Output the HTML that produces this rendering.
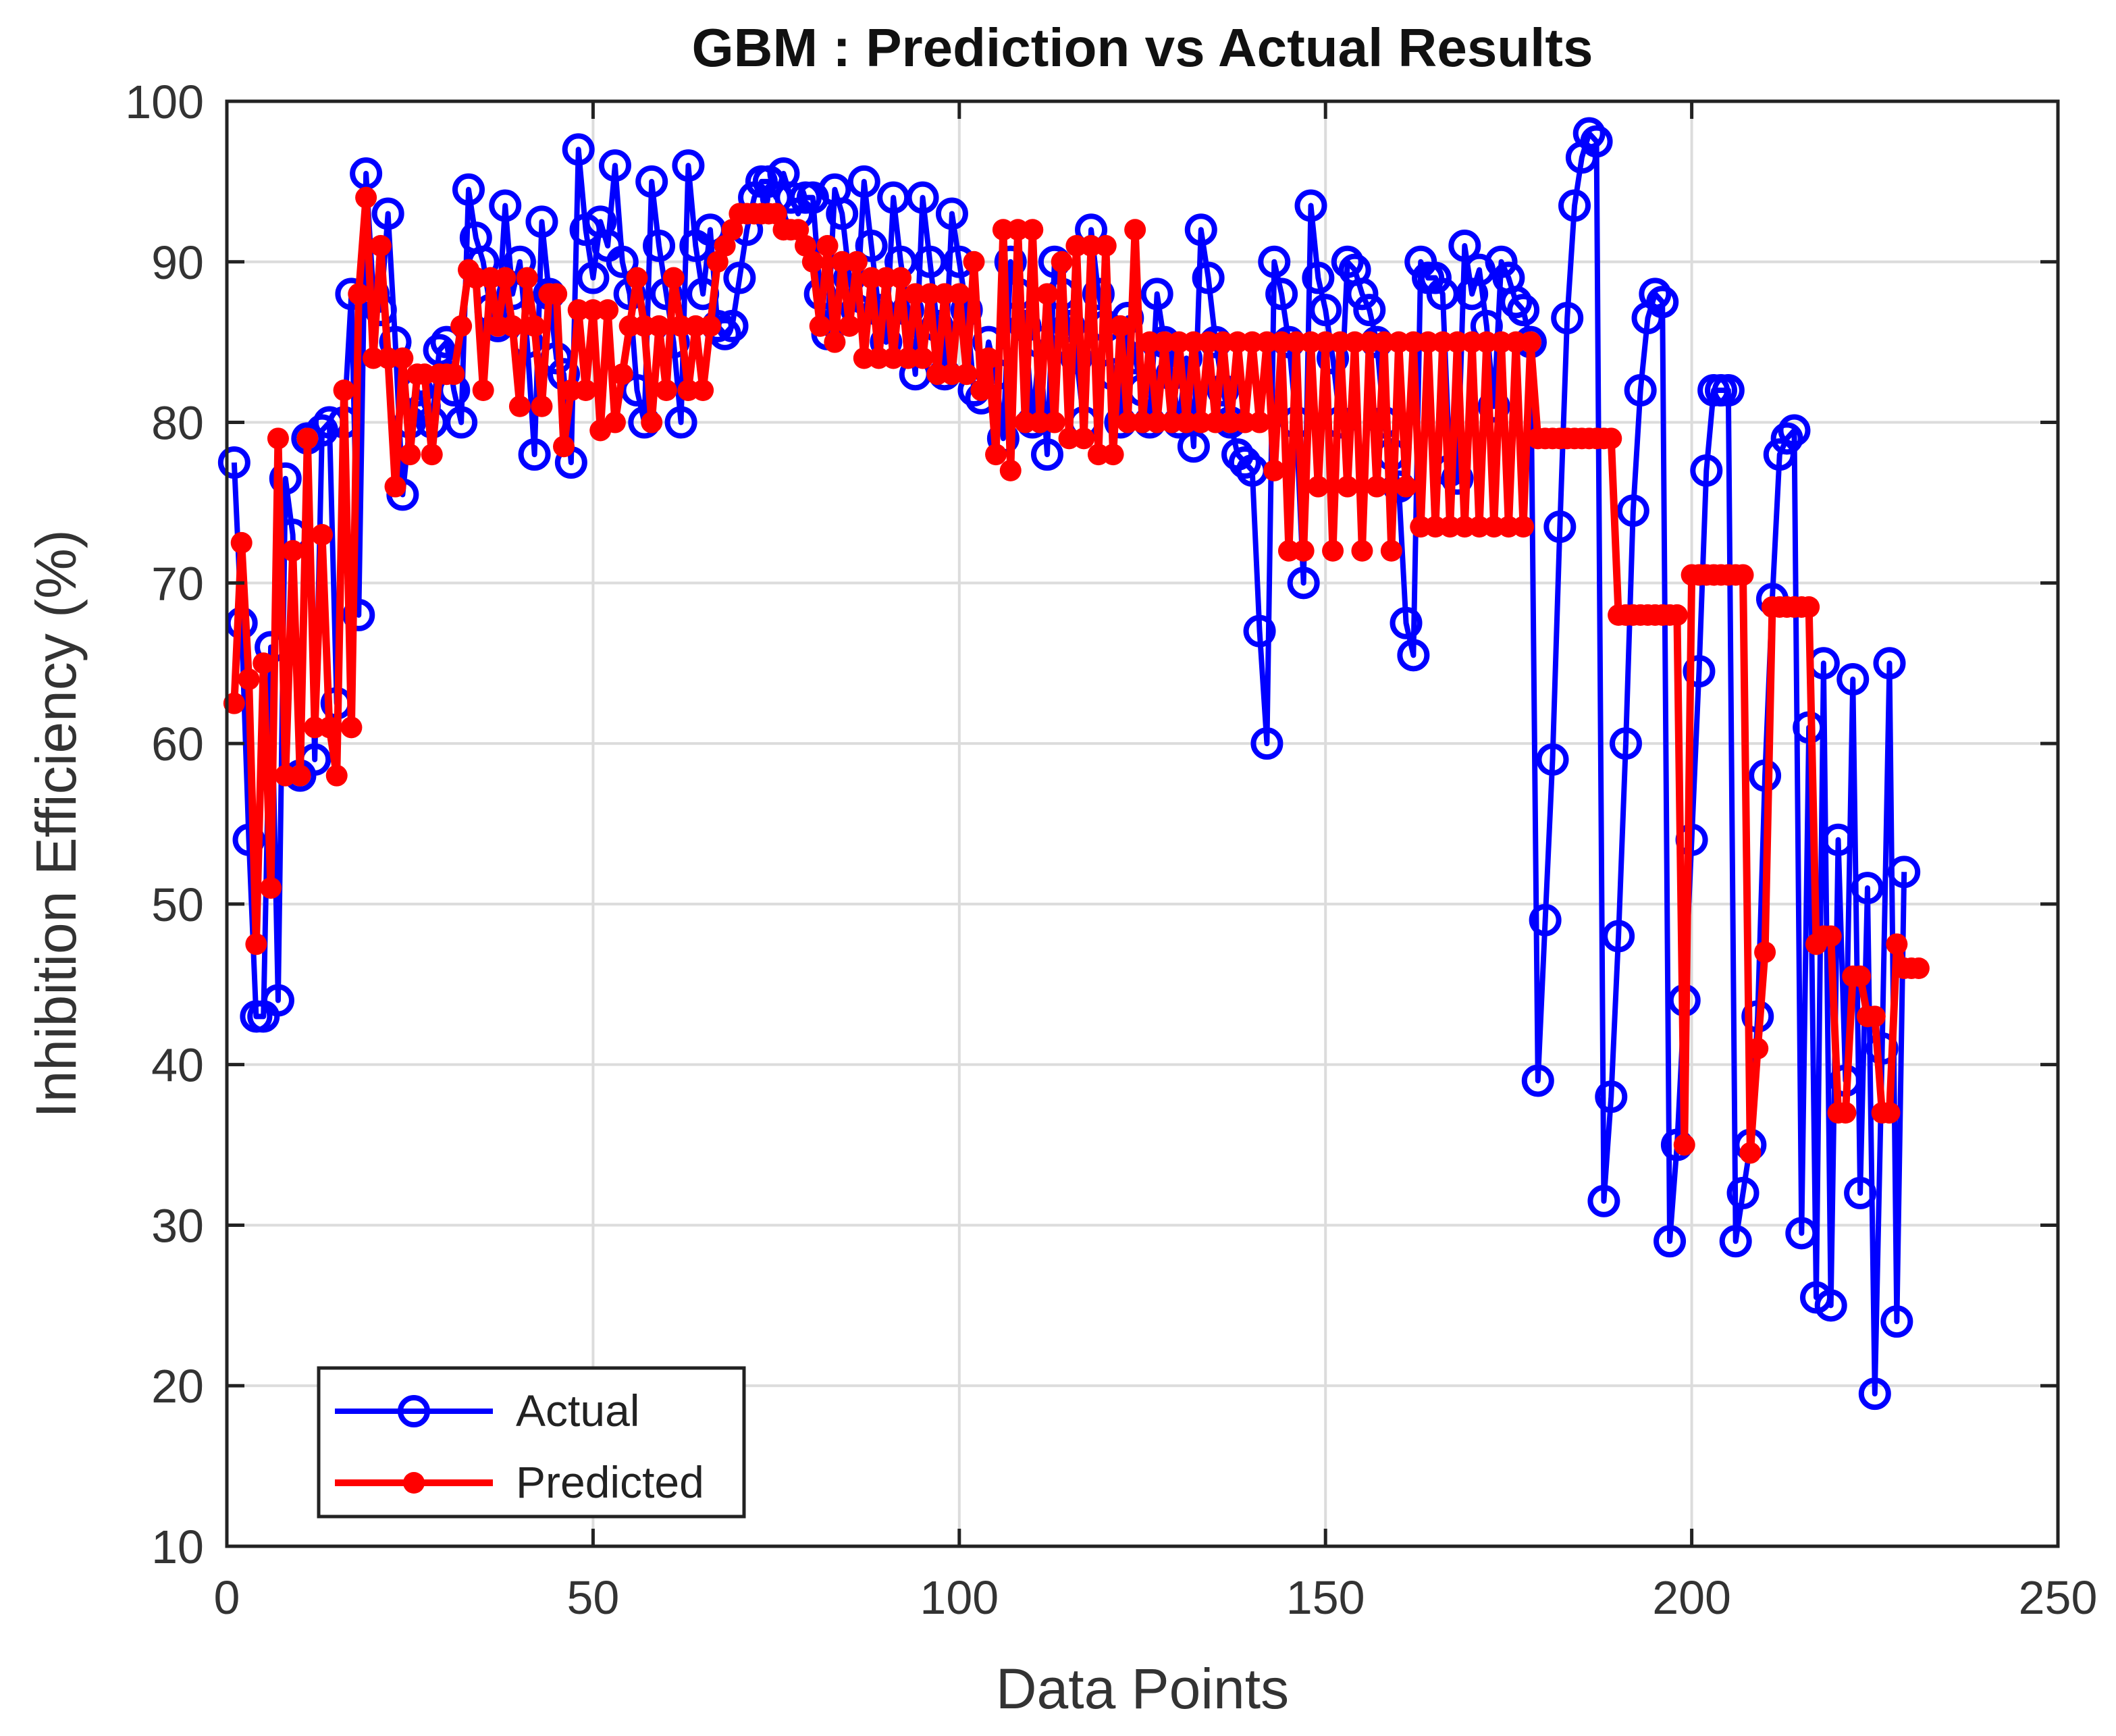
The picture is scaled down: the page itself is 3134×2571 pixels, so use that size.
<!DOCTYPE html>
<html><head><meta charset="utf-8"><style>
html,body{margin:0;padding:0;background:#fff}
svg{display:block;font-family:"Liberation Sans",Arial,sans-serif}
</style></head><body>
<svg id="chart" width="3134" height="2571" viewBox="0 0 3134 2571" xmlns="http://www.w3.org/2000/svg">
<rect width="3134" height="2571" fill="#fff"/>
<text x="1692" y="98" text-anchor="middle" font-size="80" font-weight="bold" fill="#111">GBM : Prediction vs Actual Results</text>
<g id="grid"></g>
<g id="series"></g>
<rect x="336" y="150" width="2712" height="2140" fill="none" stroke="#222" stroke-width="5"/>
<g id="ticks"></g>
<text x="1692" y="2530" text-anchor="middle" font-size="84" fill="#333">Data Points</text>
<text transform="translate(112,1220) rotate(-90)" text-anchor="middle" font-size="84" fill="#333">Inhibition Efficiency (%)</text>
<g>
<rect x="472" y="2026" width="630" height="220" fill="#fff" stroke="#222" stroke-width="5"/>
<g>
<line x1="496" y1="2090" x2="730" y2="2090" stroke="#0000ff" stroke-width="8"/>
<circle cx="613" cy="2090" r="20" fill="none" stroke="#0000ff" stroke-width="8"/>
<text x="764" y="2112" font-size="66" fill="#222">Actual</text>
</g>
<g>
<line x1="496" y1="2196" x2="730" y2="2196" stroke="#ff0000" stroke-width="10"/>
<circle cx="613" cy="2196" r="16" fill="#ff0000"/>
<text x="764" y="2218" font-size="66" fill="#222">Predicted</text>
</g>
</g>
</svg>
<script>
const xTicks = [0, 50, 100, 150, 200, 250];
const yTicks = [10, 20, 30, 40, 50, 60, 70, 80, 90, 100];
const actual = [77.5,67.5,54,43,43,66,44,76.5,73,58,79,59,79.5,80,62.5,80,88,68,95.5,88,87,93,85,75.5,80,82,81,80,84.5,85,82,80,94.5,91.5,90,87,86,93.5,88,90,85,78,92.5,88,84,83,77.5,97,92,89,92.5,91,96,90,88,82,80,95,91,88,85,80,96,91,88,92,86,85.5,86,89,92,94,95,95,94,95.5,94,93,94,94,88,85.5,94.5,93,89,87,95,91,87,85,94,90,87,83,94,90,86,83,93,90,87,82,81.5,85,83,79,90,88,86,80,85,78,90,88,86,84,80,92,88,86,83,80,86.5,84,82,80,88,85,83,80,84,78.5,92,89,85,82,80,78,77.5,77,67,60,90,88,85,80,70,93.5,89,87,84,80,90,89.5,88,87,85,80,78,76,67.5,65.5,90,89,89,88,77,76.5,91,88,89.5,86,81,90,89,87.5,87,85,39,49,59,73.5,86.5,93.5,96.5,98,97.5,31.5,38,48,60,74.5,82,86.5,88,87.5,29,35,44,54,64.5,77,82,82,82,29,32,35,43,58,69,78,79,79.5,29.5,61,25.5,65,25,54,39,64,32,51,19.5,41,65,24,52];
const predicted = [62.5,72.5,64,47.5,65,51,79,58,72,58,79,61,73,61,58,82,61,88,94,84,91,84,76,84,78,83,83,78,83,83,83,86,89.5,89,82,89,86,89,86,81,89,86,81,88,88,78.5,82,87,82,87,79.5,87,80,83,86,89,86,80,86,82,89,86,82,86,82,86,90,91,92,93,93,93,93,93,93,92,92,92,91,90,86,91,85,90,86,90,84,89,84,89,84,89,84,88,84,88,83,88,83,88,83,90,82,84,78,92,77,92,80,92,80,88,80,90,79,91,79,91,78,91,78,86,80,92,80,85,80,85,80,85,80,85,80,85,80,85,80,85,80,85,80,85,77,85,72,85,72,85,76,85,72,85,76,85,72,85,76,85,72,85,76,85,73.5,85,73.5,85,73.5,85,73.5,85,73.5,85,73.5,85,73.5,85,73.5,85,79,79,79,79,79,79,79,79,79,79,79,68,68,68,68,68,68,68,68,68,35,70.5,70.5,70.5,70.5,70.5,70.5,70.5,70.5,34.5,41,47,68.5,68.5,68.5,68.5,68.5,68.5,47.5,48,48,37,37,45.5,45.5,43,43,37,37,47.5,46,46,46];

const L=336,R=3048,T=150,B=2290;
const xs=v=>L+(v-0)/(250-0)*(R-L);
const ys=v=>B-(v-10)/(100-10)*(B-T);
const NS="http://www.w3.org/2000/svg";
function mk(tag,attrs,parent){const e=document.createElementNS(NS,tag);for(const k in attrs)e.setAttribute(k,attrs[k]);parent.appendChild(e);return e;}
const grid=document.getElementById('grid'),ticks=document.getElementById('ticks'),series=document.getElementById('series');
xTicks.forEach(t=>{
  const g=mk('line',{x1:xs(t),x2:xs(t),y1:T,y2:B,stroke:'#dcdcdc','stroke-width':4},grid);
  
  
  mk('line',{x1:xs(t),x2:xs(t),y1:B,y2:B-26,stroke:'#222','stroke-width':5},ticks);
  mk('line',{x1:xs(t),x2:xs(t),y1:T,y2:T+26,stroke:'#222','stroke-width':5},ticks);
  const lb=mk('text',{x:xs(t),y:B+100,'text-anchor':'middle','font-size':70,fill:'#333'},ticks);
  lb.textContent=t;
  
  
});
yTicks.forEach(t=>{
  const g=mk('line',{x1:L,x2:R,y1:ys(t),y2:ys(t),stroke:'#dcdcdc','stroke-width':4},grid);
  
  
  mk('line',{x1:L,x2:L+26,y1:ys(t),y2:ys(t),stroke:'#222','stroke-width':5},ticks);
  mk('line',{x1:R,x2:R-26,y1:ys(t),y2:ys(t),stroke:'#222','stroke-width':5},ticks);
  const lb=mk('text',{x:L-34,y:ys(t)+25,'text-anchor':'end','font-size':70,fill:'#333'},ticks);
  lb.textContent=t;
  
  
});
const aPts=actual.map((v,i)=>xs(i+1)+','+ys(v)).join(' ');
const aLine=mk('polyline',{points:aPts,fill:'none',stroke:'#0000ff','stroke-width':8,'stroke-linejoin':'round'},series);


actual.forEach((v,i)=>{
  const c=mk('circle',{cx:xs(i+1),cy:ys(v),r:20,fill:'none',stroke:'#0000ff','stroke-width':8},series);
  
  
});
const pPts=predicted.map((v,i)=>xs(i+1)+','+ys(v)).join(' ');
const pLine=mk('polyline',{points:pPts,fill:'none',stroke:'#ff0000','stroke-width':11,'stroke-linejoin':'round'},series);


predicted.forEach((v,i)=>{
  const c=mk('circle',{cx:xs(i+1),cy:ys(v),r:16,fill:'#ff0000'},series);
  
  
});
</script>
</body></html>
